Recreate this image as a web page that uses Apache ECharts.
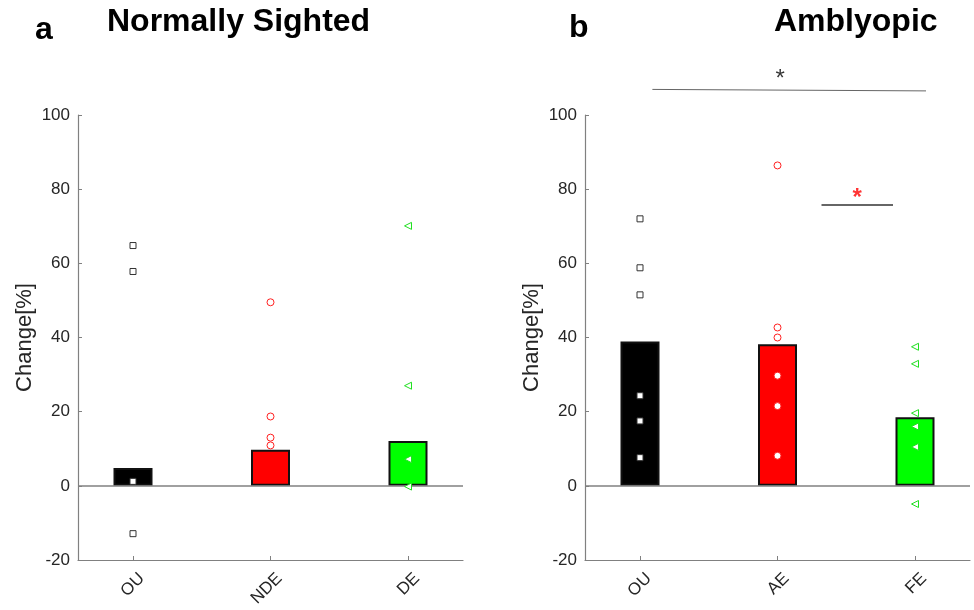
<!DOCTYPE html>
<html><head><meta charset="utf-8">
<script src="https://cdn.jsdelivr.net/npm/echarts@6/dist/echarts.min.js"></script>
<style>html,body{margin:0;padding:0;background:#fff}#c{width:974px;height:610px}</style>
</head><body><div id="c"></div><script>
// ---- data ----
const categoriesA = ['OU', 'NDE', 'DE'];
const categoriesB = ['OU', 'AE', 'FE'];
const yTicks = [-20, 0, 20, 40, 60, 80, 100];
const barsA = [4.8, 9.7, 12.1];
const barsB = [38.9, 38.2, 18.5];
const pointsA_OU = [64.8, 57.8, 1.2, -12.9];
const pointsA_NDE = [49.5, 18.7, 13.0, 10.9];
const pointsA_DE = [70.1, 27.0, 7.2, -0.2];
const pointsB_OU = [72.0, 58.8, 51.5, 24.3, 17.5, 7.6];
const pointsB_AE = [86.4, 42.7, 40.0, 29.7, 21.5, 8.1];
const pointsB_FE = [37.5, 32.9, 19.6, 16.0, 10.5, -4.9];
// significance annotations (panel b)
const sigAllX = [1.09, 3.08];
const sigAllY = [106.9, 106.5];
const sigAllStar = [2.02, 109.7];
const sigAEFEX = [2.32, 2.84];
const sigAEFEY = [75.7, 75.7];
const sigAEFEStar = [2.58, 77.4];

// ---- styles ----
const FONT = 'Liberation Sans, Arial, Helvetica, sans-serif';
const TXT = '#262626';
const AX = '#808080';
const barColors = ['#000000', '#ff0000', '#00ff00'];
const markerStyles = [
  {symbol: 'rect', size: 6, color: '#333333', rotate: 0},
  {symbol: 'circle', size: 7, color: '#ff2020', rotate: 0},
  {symbol: 'triangle', size: 7, color: '#20e020', rotate: 90}
];

function makeXAxis(gridIndex, cats) {
  return {
    type: 'value', gridIndex: gridIndex, min: 0.6, max: 3.4,
    axisLine: {show: true, onZero: false, lineStyle: {color: AX, width: 1.2}},
    axisTick: {show: true, inside: true, length: 4, customValues: [1, 2, 3], lineStyle: {color: AX}},
    axisLabel: {
      customValues: [1, 2, 3], rotate: 45, margin: 7,
      formatter: function (v) { return cats[Math.round(v) - 1] || ''; },
      fontSize: 17, fontFamily: FONT, color: TXT, verticalAlign: 'top', lineHeight: 25
    },
    splitLine: {show: false}
  };
}
function makeYAxis(gridIndex) {
  return {
    type: 'value', gridIndex: gridIndex, min: yTicks[0], max: yTicks[yTicks.length - 1], interval: 20,
    name: 'Change[%]', nameLocation: 'middle', nameGap: 42,
    nameTextStyle: {fontSize: 22, fontFamily: FONT, color: TXT},
    axisLine: {show: true, lineStyle: {color: AX, width: 1.2}},
    axisTick: {show: true, inside: true, length: 4, lineStyle: {color: AX}},
    axisLabel: {fontSize: 17, fontFamily: FONT, color: TXT, margin: 8},
    splitLine: {show: false}
  };
}
function barSeries(idx, vals) {
  return {
    type: 'bar', xAxisIndex: idx, yAxisIndex: idx, barWidth: 39, z: 2,
    data: vals.map(function (v, i) {
      return {value: [i + 1, v], itemStyle: {color: barColors[i], borderColor: '#111', borderWidth: 2}};
    }),
    markLine: {
      silent: true, symbol: 'none', label: {show: false},
      lineStyle: {color: AX, width: 1.5, type: 'solid'},
      data: [{yAxis: 0}]
    }
  };
}
function pointSeries(idx, catIdx, vals) {
  const m = markerStyles[catIdx];
  return {
    type: 'scatter', xAxisIndex: idx, yAxisIndex: idx, z: 5, clip: false,
    symbol: m.symbol, symbolSize: m.size, symbolRotate: m.rotate,
    itemStyle: {color: '#ffffff', borderColor: m.color, borderWidth: 1, opacity: 1},
    data: vals.map(function (v) { return [catIdx + 1, v]; })
  };
}
function lineSeries(idx, xs, ys, color, width) {
  return {
    type: 'line', xAxisIndex: idx, yAxisIndex: idx, clip: false, symbol: 'none', silent: true,
    lineStyle: {color: color, width: width}, z: 6,
    data: xs.map(function (x, i) { return [x, ys[i]]; })
  };
}
function starSeries(idx, pos, color, weight) {
  return {
    type: 'scatter', xAxisIndex: idx, yAxisIndex: idx, clip: false, symbolSize: 0, silent: true, z: 7,
    label: {show: true, position: 'inside', formatter: '*', fontSize: 24, fontWeight: weight, fontFamily: FONT, color: color},
    data: [pos]
  };
}

const TITLE = {fontSize: 32, fontWeight: 'bold', fontFamily: FONT, color: '#000'};
const chart = echarts.init(document.getElementById('c'), null, {renderer: 'canvas'});
chart.setOption({
  backgroundColor: '#ffffff',
  animation: false,
  title: [
    {text: 'a', left: 35, top: 14, padding: 0, textStyle: TITLE},
    {text: 'Normally Sighted', left: 107, top: 6, padding: 0, textStyle: TITLE},
    {text: 'b', left: 569, top: 12, padding: 0, textStyle: TITLE},
    {text: 'Amblyopic', left: 774, top: 6, padding: 0, textStyle: TITLE}
  ],
  grid: [
    {left: 78, top: 115, width: 385, height: 445, containLabel: false, outerBoundsMode: 'none'},
    {left: 585, top: 115, width: 385, height: 445, containLabel: false, outerBoundsMode: 'none'}
  ],
  xAxis: [makeXAxis(0, categoriesA), makeXAxis(1, categoriesB)],
  yAxis: [makeYAxis(0), makeYAxis(1)],
  series: [
    barSeries(0, barsA),
    pointSeries(0, 0, pointsA_OU),
    pointSeries(0, 1, pointsA_NDE),
    pointSeries(0, 2, pointsA_DE),
    barSeries(1, barsB),
    pointSeries(1, 0, pointsB_OU),
    pointSeries(1, 1, pointsB_AE),
    pointSeries(1, 2, pointsB_FE),
    lineSeries(1, sigAllX, sigAllY, '#666666', 1),
    starSeries(1, sigAllStar, '#000000', 'normal'),
    lineSeries(1, sigAEFEX, sigAEFEY, '#333333', 1.5),
    starSeries(1, sigAEFEStar, '#ff0000', 'bold')
  ]
});
</script></body></html>
